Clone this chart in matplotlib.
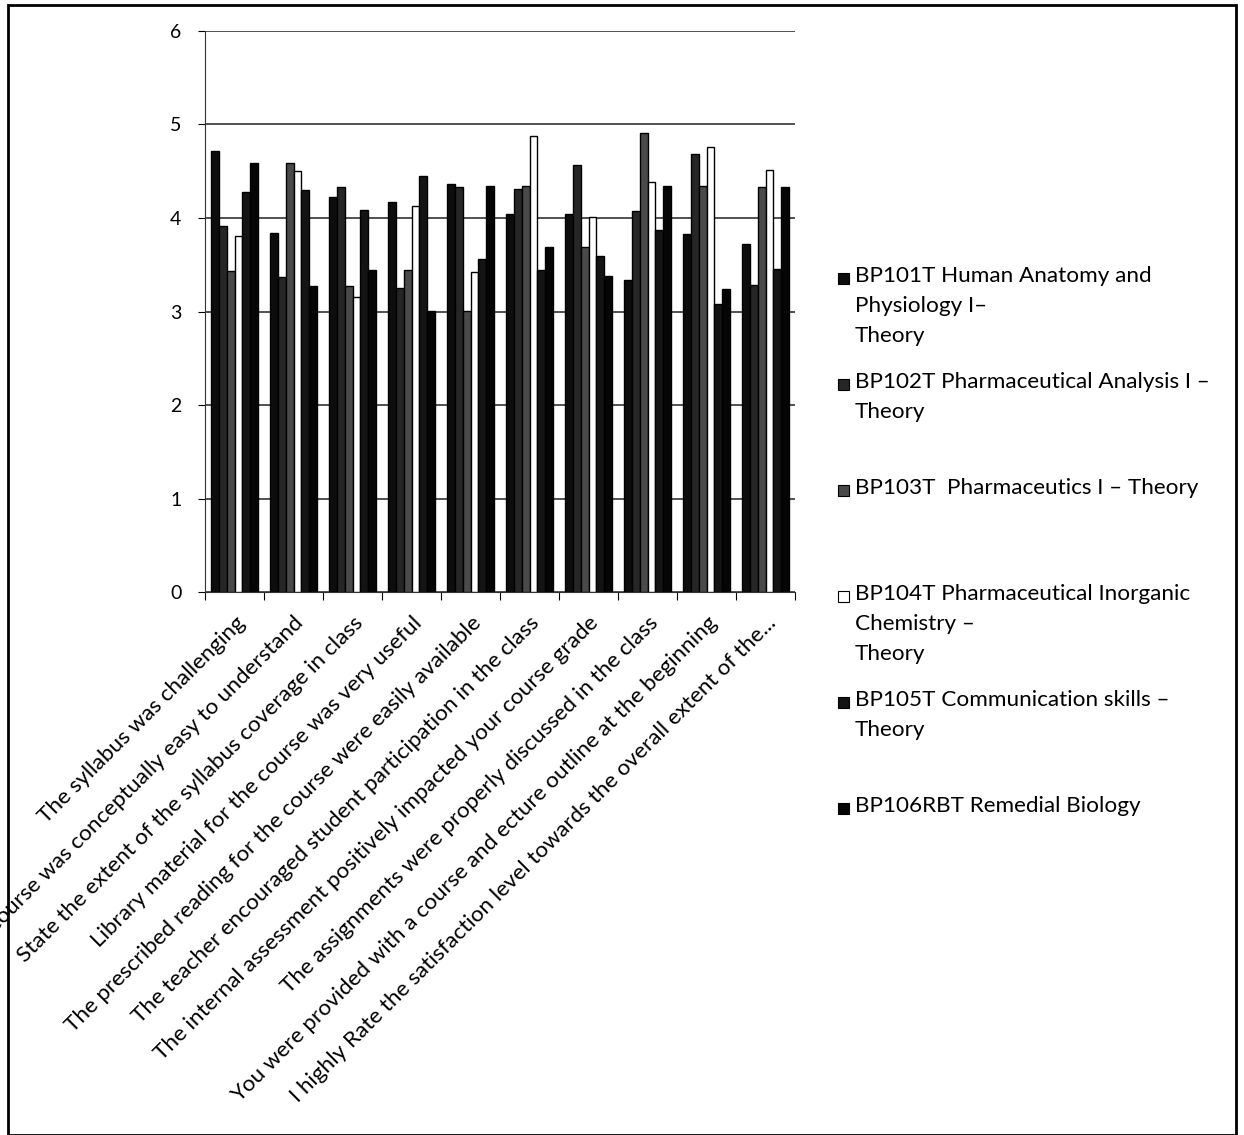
import numpy as np
import matplotlib
matplotlib.use("Agg")
import matplotlib.pyplot as plt
from matplotlib.patches import Rectangle

# -----------------------------
# Data (mean feedback scores)
# -----------------------------
questions = [
    "The syllabus was challenging",
    "The course was conceptually easy to understand",
    "State the extent of the syllabus coverage in class",
    "Library material for the course was very useful",
    "The prescribed reading for the course were easily available",
    "The teacher encouraged student participation in the class",
    "The internal assessment positively impacted your course grade",
    "The assignments were properly discussed in the class",
    "You were provided with a course and ecture outline at the beginning",
    "I highly Rate the satisfaction level towards the overall extent of the...",
]

series_labels = [
    "BP101T Human Anatomy and\nPhysiology I\u2013\nTheory",
    "BP102T Pharmaceutical Analysis I \u2013\nTheory",
    "BP103T  Pharmaceutics I \u2013 Theory",
    "BP104T Pharmaceutical Inorganic\nChemistry \u2013\nTheory",
    "BP105T Communication skills \u2013\nTheory",
    "BP106RBT Remedial Biology",
]

bp101t = [4.72, 3.84, 4.22, 4.17, 4.36, 4.04, 4.04, 3.34, 3.83, 3.72]
bp102t = [3.91, 3.37, 4.33, 3.25, 4.33, 4.31, 4.57, 4.08, 4.68, 3.28]
bp103t = [3.43, 4.59, 3.27, 3.44, 3.01, 4.34, 3.69, 4.91, 4.34, 4.33]
bp104t = [3.81, 4.50, 3.15, 4.13, 3.42, 4.88, 4.01, 4.38, 4.76, 4.51]
bp105t = [4.28, 4.30, 4.09, 4.45, 3.56, 3.44, 3.59, 3.87, 3.08, 3.45]
bp106rbt = [4.59, 3.27, 3.44, 3.01, 4.34, 3.69, 3.38, 4.34, 3.24, 4.33]

all_series = [bp101t, bp102t, bp103t, bp104t, bp105t, bp106rbt]
face_colors = ["#0d0d0d", "#262626", "#4a4a4a", "#ffffff", "#141414", "#050505"]

# -----------------------------
# Plot
# -----------------------------
plt.rcParams["font.family"] = ["Lato", "DejaVu Sans"]

fig = plt.figure(figsize=(12.44, 11.35), dpi=100)
ax = fig.add_axes([0.1648, 0.4784, 0.4743, 0.4943])

x = np.arange(len(questions))
bar_w = 0.133
for i, vals in enumerate(all_series):
    offs = (i - 2.5) * bar_w
    ax.bar(x + offs, vals, width=bar_w, color=face_colors[i],
           edgecolor="black", linewidth=1.0, zorder=3)

ax.set_ylim(0, 6)
ax.set_xlim(-0.5, len(questions) - 0.5)
ax.set_yticks(range(0, 7))
ax.tick_params(axis="y", labelsize=14, length=5, direction="out", pad=12)
ax.yaxis.grid(True, color="#333333", linewidth=1.2, zorder=0)
ax.set_axisbelow(True)

# Excel-style category ticks between groups
ax.set_xticks(np.arange(-0.5, len(questions)), minor=False)
ax.set_xticklabels([])
ax.tick_params(axis="x", length=6, direction="out")
ax.set_xticks(x, minor=True)
ax.set_xticklabels(questions, minor=True, rotation=45, ha="right",
                   rotation_mode="anchor", fontsize=16.2)
ax.tick_params(axis="x", which="minor", length=0, pad=15)

for side in ["top", "right"]:
    ax.spines[side].set_visible(False)
ax.spines["left"].set_color("#333333")
ax.spines["bottom"].set_color("#333333")

# -----------------------------
# Legend (Excel layout, evenly spaced entries)
# -----------------------------
leg_x = 855 / 1244
for i, lab in enumerate(series_labels):
    y_px = 266 + i * 106
    fig.text(leg_x, 1 - y_px / 1135, lab, fontsize=16.2, va="top",
             ha="left", linespacing=1.62)
    fig.patches.append(Rectangle((838 / 1244, 1 - (y_px + 18) / 1135),
                                 11 / 1244, 11 / 1135, transform=fig.transFigure,
                                 facecolor=face_colors[i], edgecolor="black",
                                 linewidth=0.8))

# page border
fig.patches.append(Rectangle((8 / 1244, 0), 1228 / 1244, 1130 / 1135,
                             transform=fig.transFigure, fill=False,
                             edgecolor="black", linewidth=2))

fig.savefig("out.png", dpi=100)
plt.close(fig)
